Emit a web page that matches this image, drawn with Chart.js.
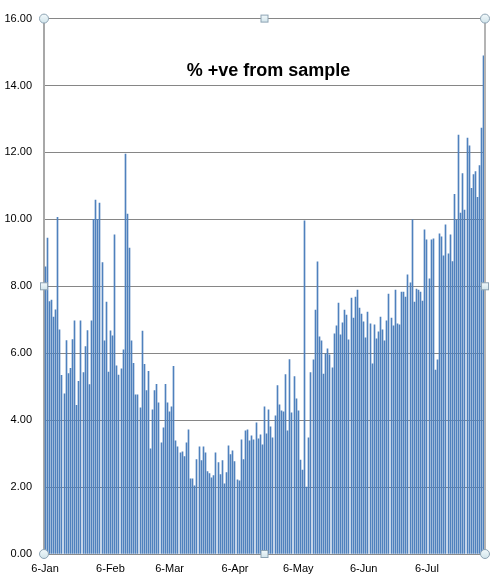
<!DOCTYPE html>
<html>
<head>
<meta charset="utf-8">
<script src="https://cdn.jsdelivr.net/npm/chart.js@4.4.0/dist/chart.umd.min.js"></script>
<style>
html,body{margin:0;padding:0;background:#ffffff;overflow:hidden;}
#wrap{width:497px;height:586px;position:relative;}
</style>
</head>
<body>
<div id="wrap"><canvas id="c" width="497" height="586"></canvas></div>
<script>
// ---- data ----
const monthNames = ['Jan','Feb','Mar','Apr','May','Jun','Jul','Aug','Sep','Oct','Nov','Dec'];
const firstDay = { year: 2021, month: 0, day: 6 };
const dayCount = 209;
const categories = [];
for (let i = 0; i < dayCount; i++) {
  const d = new Date(firstDay.year, firstDay.month, firstDay.day + i);
  categories.push(d.getDate() + '-' + monthNames[d.getMonth()]);
}
const tickLabels = ['6-Jan','6-Feb','6-Mar','6-Apr','6-May','6-Jun','6-Jul'];
const yTickValues = [0,2,4,6,8,10,12,14,16];
const chartTitle = '% +ve from sample';

const janValues = [8.58,9.44,7.54,7.59,7.08,7.30,10.06,6.70,5.34,4.79,6.38,5.39,5.55,6.41,6.97,4.44,5.16,6.97,5.42,6.20,6.68,
  5.06,6.97,10.00,10.58];
const febValues = [10.00,10.49,8.71,6.37,7.53,5.44,6.67,6.52,9.54,5.62,5.35,5.53,6.10,11.95,10.16,9.14,6.37,
  5.70,4.76,4.76,4.37,6.66,5.67,4.88,5.46,3.14,4.31,4.88];
const marValues = [5.07,4.52,3.32,3.77,5.07,4.52,4.25,4.40,5.61,3.38,
  3.20,3.02,3.05,2.91,3.32,3.71,2.25,2.25,2.04,2.82,3.20,2.79,3.20,3.02,2.46,2.40,2.28,2.34,3.02,2.73,2.37];
const aprValues = [2.79,2.10,2.43,3.23,2.97,3.08,2.76,2.22,2.19,3.41,2.82,3.68,3.71,3.38,3.53,3.41,3.92,3.44,3.56,3.26,4.40,3.59,
  4.31,3.80,3.47,4.13,5.03,4.46,4.28,4.25];
const mayValues = [5.36,3.68,5.81,4.22,5.30,4.64,4.28,2.81,2.51,9.96,2.00,3.47,5.42,
  5.80,7.29,8.73,6.49,6.37,5.38,5.98,6.13,5.95,5.56,6.58,6.82,7.50,6.55,6.91,7.29,7.14,6.40];
const junValues = [7.65,7.05,7.68,7.89,7.35,7.17,6.94,6.46,7.23,6.88,5.68,6.85,6.43,6.64,7.08,6.70,6.37,6.97,7.77,7.05,6.82,7.89,6.88,6.85,7.83,
  7.83,7.68,8.34,8.10,9.99];
const julValues = [7.53,7.92,7.89,7.83,7.56,9.69,9.39,8.22,9.39,9.42,5.50,5.80,9.57,9.48,8.91,9.84,8.97,
  9.54,8.74,10.75,9.98,12.52,10.19,11.37,10.28,12.43,12.20,10.93,11.34,11.43,10.66,11.61,12.73,14.89];
const positivity = [].concat(janValues, febValues, marValues, aprValues, mayValues, junValues, julValues);

// ---- snap 1px bars to whole pixels so they render crisp ----
const snapPlugin = {
  id: 'snap',
  beforeDatasetsDraw(chart) {
    chart.getDatasetMeta(0).data.forEach(el => { el.x = Math.floor(el.x) + 0.5; });
  }
};

// ---- decoration plugin (title inside plot, right border, selection handles) ----
const decorPlugin = {
  id: 'decor',
  afterDraw(chart) {
    const ctx = chart.ctx;
    const a = chart.chartArea;
    ctx.save();
    // right border of plot area
    ctx.strokeStyle = '#b4b4b4';
    ctx.lineWidth = 2;
    ctx.beginPath();
    ctx.moveTo(a.right, a.top);
    ctx.lineTo(a.right, a.bottom);
    ctx.stroke();
    // title
    ctx.fillStyle = '#000000';
    ctx.font = 'bold 18px "Liberation Sans", Arial, sans-serif';
    ctx.textAlign = 'center';
    ctx.textBaseline = 'middle';
    ctx.fillText(chartTitle, (a.left + a.right) / 2 + 4, a.top + 52);
    // selection handles
    const midX = (a.left + a.right) / 2, midY = (a.top + a.bottom) / 2;
    const circles = [[a.left, a.top], [a.right, a.top], [a.left, a.bottom], [a.right, a.bottom]];
    const squares = [[midX, a.top], [midX, a.bottom], [a.left, midY], [a.right, midY]];
    ctx.lineWidth = 1;
    ctx.strokeStyle = '#8ea4b4';
    circles.forEach(([x, y]) => {
      const g = ctx.createLinearGradient(x, y - 5, x, y + 5);
      g.addColorStop(0, '#f4fafc');
      g.addColorStop(1, '#cfe3ea');
      ctx.fillStyle = g;
      ctx.beginPath();
      ctx.arc(x, y, 4.5, 0, Math.PI * 2);
      ctx.fill();
      ctx.stroke();
    });
    squares.forEach(([x, y]) => {
      const g = ctx.createLinearGradient(x, y - 4, x, y + 4);
      g.addColorStop(0, '#f4fafc');
      g.addColorStop(1, '#cfe3ea');
      ctx.fillStyle = g;
      ctx.fillRect(x - 3.5, y - 3.5, 7, 7);
      ctx.strokeRect(x - 3.5, y - 3.5, 7, 7);
    });
    ctx.restore();
  }
};

const labelFont = { family: '"Liberation Sans", Arial, sans-serif', size: 11 };

new Chart(document.getElementById('c'), {
  type: 'bar',
  data: {
    labels: categories,
    datasets: [{
      label: chartTitle,
      data: positivity,
      backgroundColor: '#4F81BD',
      borderWidth: 0,
      barThickness: 1
    }]
  },
  options: {
    responsive: false,
    devicePixelRatio: 1,
    animation: false,
    layout: { padding: { top: 18, right: 12, bottom: 0, left: 0 } },
    plugins: { legend: { display: false }, title: { display: false }, tooltip: { enabled: false } },
    scales: {
      x: {
        type: 'category',
        offset: true,
        grid: { display: false, drawTicks: false },
        border: { display: true, color: '#8c8c8c', width: 1 },
        ticks: {
          autoSkip: false,
          maxRotation: 0,
          minRotation: 0,
          padding: 8,
          color: '#000000',
          font: labelFont,
          callback: function (value, index) {
            const lab = categories[index];
            return tickLabels.includes(lab) ? lab : '';
          }
        },
        afterFit(scale) { scale.height = 32; }
      },
      y: {
        min: 0,
        max: 16,
        afterBuildTicks(scale) { scale.ticks = yTickValues.map(v => ({ value: v })); },
        grid: { color: '#868686', lineWidth: 1, drawTicks: false },
        border: { display: true, color: '#a8a8a8', width: 2 },
        ticks: {
          padding: 12,
          color: '#000000',
          font: labelFont,
          callback: v => Number(v).toFixed(2)
        },
        afterFit(scale) { scale.width = 44; }
      }
    }
  },
  plugins: [snapPlugin, decorPlugin]
});
</script>
</body>
</html>
